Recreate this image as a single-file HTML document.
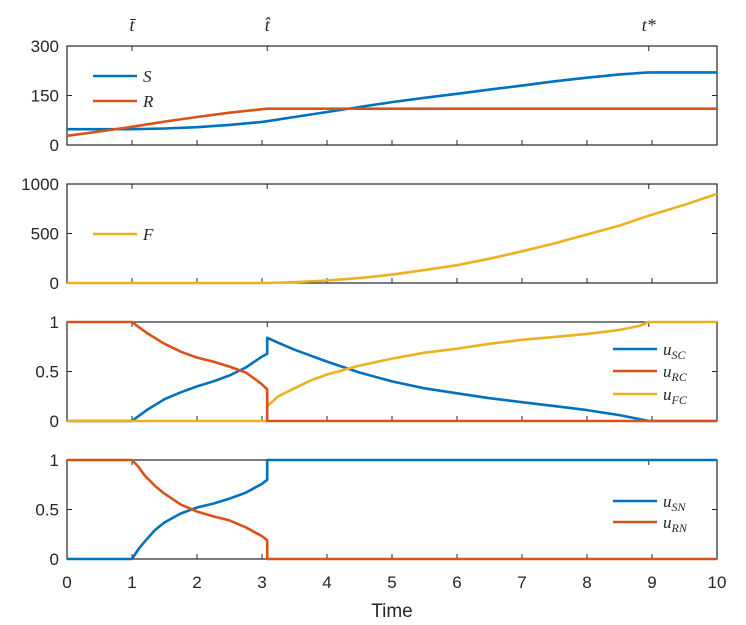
<!DOCTYPE html>
<html><head><meta charset="utf-8"><style>
body{margin:0;background:#fff}
svg{display:block;font-family:"Liberation Sans",sans-serif}
.it{font-family:"Liberation Serif",serif;font-style:italic}
</style></head><body>
<svg id="chart" width="746" height="625" viewBox="0 0 746 625"></svg>
<script>
const times=[0,0.5,1,1.5,2,2.5,3,3.08,3.5,4,4.5,5,5.5,6,6.5,7,7.5,8,8.5,8.95,10];
const sVals=[48,48,48,50,54,61,70,72,85,100,115,130,143,155,168,180,193,204,214,220,220];
const rTimes=[0,0.5,1,1.5,2,2.5,3.08,10];
const rVals=[28,41,55,71,85,98,110,110];
const fTimes=[0,3.08,3.5,4,4.5,5,5.5,6,6.5,7,7.5,8,8.5,8.95,9.5,10];
const fVals=[0,0,8,25,50,85,130,180,245,320,400,490,580,680,790,900];
const uscTimes=[0,1,1.1,1.25,1.5,1.75,2,2.25,2.5,2.75,3,3.08,3.08,3.25,3.5,3.75,4,4.5,5,5.5,6,6.5,7,7.5,8,8.5,8.95,10];
const uscVals=[0,0,0.05,0.12,0.22,0.29,0.35,0.40,0.46,0.54,0.65,0.68,0.84,0.79,0.72,0.66,0.6,0.49,0.4,0.33,0.28,0.23,0.19,0.15,0.11,0.06,0,0];
const urcTimes=[0,1,1.1,1.25,1.5,1.75,2,2.25,2.5,2.75,2.9,3,3.08,3.08,10];
const urcVals=[1,1,0.95,0.88,0.78,0.70,0.64,0.6,0.55,0.49,0.42,0.37,0.32,0,0];
const ufcTimes=[0,3.08,3.08,3.25,3.5,3.75,4,4.5,5,5.5,6,6.5,7,7.5,8,8.5,8.8,8.95,10];
const ufcVals=[0,0,0.15,0.25,0.33,0.41,0.47,0.56,0.63,0.69,0.73,0.78,0.82,0.85,0.88,0.92,0.96,1,1];
const usnTimes=[0,1,1.1,1.2,1.35,1.5,1.75,2,2.25,2.5,2.75,3,3.08,3.08,10];
const usnVals=[0,0,0.1,0.18,0.29,0.37,0.46,0.52,0.56,0.61,0.67,0.76,0.8,1,1];
const urnTimes=[0,1,1.1,1.2,1.35,1.5,1.75,2,2.25,2.5,2.75,3,3.08,3.08,10];
const urnVals=[1,1,0.93,0.84,0.74,0.66,0.55,0.48,0.43,0.39,0.32,0.23,0.19,0,0];
const xTicks=[0,1,2,3,4,5,6,7,8,9,10];
const specialTimes=[1,3.08,8.95];
const specialLabels=['t̄','t̂','t*'];

const NS='http://www.w3.org/2000/svg';
const svg=document.getElementById('chart');
const X0=67,X1=717;
const xs=t=>X0+(t/10)*(X1-X0);
function el(tag,attrs,parent){const e=document.createElementNS(NS,tag);for(const k in attrs)e.setAttribute(k,attrs[k]);(parent||svg).appendChild(e);return e;}
const BLUE='#0072BD',ORANGE='#D95319',YEL='#EDB120';

const panels=[
 {name:'state-panel',top:46,bot:145,max:300,yt:[0,150,300],yl:['0','150','300'],
  series:[['s-line',times,sVals,BLUE],['r-line',rTimes,rVals,ORANGE]],
  leg:{x:93,ys:[76,101],labels:[['S',''],['R','']],cols:[BLUE,ORANGE]}},
 {name:'f-panel',top:184,bot:283,max:1000,yt:[0,500,1000],yl:['0','500','1000'],
  series:[['f-line',fTimes,fVals,YEL]],
  leg:{x:93,ys:[234],labels:[['F','']],cols:[YEL]}},
 {name:'control-c-panel',top:322,bot:421,max:1,yt:[0,0.5,1],yl:['0','0.5','1'],
  series:[['usc-line',uscTimes,uscVals,BLUE],['ufc-line',ufcTimes,ufcVals,YEL],['urc-line',urcTimes,urcVals,ORANGE]],
  leg:{x:613,ys:[349,371,394],labels:[['u','SC'],['u','RC'],['u','FC']],cols:[BLUE,ORANGE,YEL]}},
 {name:'control-n-panel',top:460,bot:559,max:1,yt:[0,0.5,1],yl:['0','0.5','1'],
  series:[['usn-line',usnTimes,usnVals,BLUE],['urn-line',urnTimes,urnVals,ORANGE]],
  leg:{x:613,ys:[501,522],labels:[['u','SN'],['u','RN']],cols:[BLUE,ORANGE]}}
];

panels.forEach((p,pi)=>{
 const g=el('g',{});
 
 
 const ys=v=>p.bot-(v/p.max)*(p.bot-p.top);
 const box=el('rect',{x:X0,y:p.top,width:X1-X0,height:p.bot-p.top,fill:'none',stroke:'#262626','stroke-width':1.2},g);
 
 
 xTicks.forEach(t=>{if(t>0&&t<10){const tk=el('line',{x1:xs(t),x2:xs(t),y1:p.bot,y2:p.bot-5,stroke:'#262626','stroke-width':1},g);}});
 specialTimes.forEach(t=>{const tk=el('line',{x1:xs(t),x2:xs(t),y1:p.top,y2:p.top+5,stroke:'#262626','stroke-width':1},g);});
 p.yt.forEach((v,i)=>{
  if(v>0&&v<p.max){el('line',{x1:X0,x2:X0+5,y1:ys(v),y2:ys(v),stroke:'#262626'},g);el('line',{x1:X1,x2:X1-5,y1:ys(v),y2:ys(v),stroke:'#262626'},g);}
  const tx=el('text',{x:59,y:ys(v)+6,'text-anchor':'end','font-size':17,fill:'#262626'},g);
  tx.textContent=p.yl[i];
  
  
 });
 p.series.forEach(s=>{
  const pts=s[1].map((t,i)=>xs(t).toFixed(1)+','+ys(s[2][i]).toFixed(1)).join(' ');
  const pl=el('polyline',{points:pts,fill:'none',stroke:s[3],'stroke-width':2.6,'stroke-linejoin':'round'},g);
  
  
 });
 p.leg.ys.forEach((y,i)=>{
  const lg=el('g',{},g);
  
  
  el('line',{x1:p.leg.x,x2:p.leg.x+44,y1:y,y2:y,stroke:p.leg.cols[i],'stroke-width':2.6},lg);
  const t=el('text',{x:p.leg.x+50,y:y+6,'font-size':17,class:'it',fill:'#262626'},lg);
  t.textContent=p.leg.labels[i][0];
  if(p.leg.labels[i][1]){const sb=el('tspan',{'font-size':12,dy:4},t);sb.textContent=p.leg.labels[i][1];}
 });
});
specialTimes.forEach((t,i)=>{
 const tx=el('text',{x:xs(t),y:31,'text-anchor':'middle','font-size':18,class:'it',fill:'#262626'});
 tx.textContent=specialLabels[i];
 
 
});
xTicks.forEach(t=>{
 const tx=el('text',{x:xs(t),y:588,'text-anchor':'middle','font-size':17,fill:'#262626'});
 tx.textContent=String(t);
 
 
});
const xt=el('text',{x:392,y:617,'text-anchor':'middle','font-size':19,fill:'#262626'});
xt.textContent='Time';


</script>
</body></html>
